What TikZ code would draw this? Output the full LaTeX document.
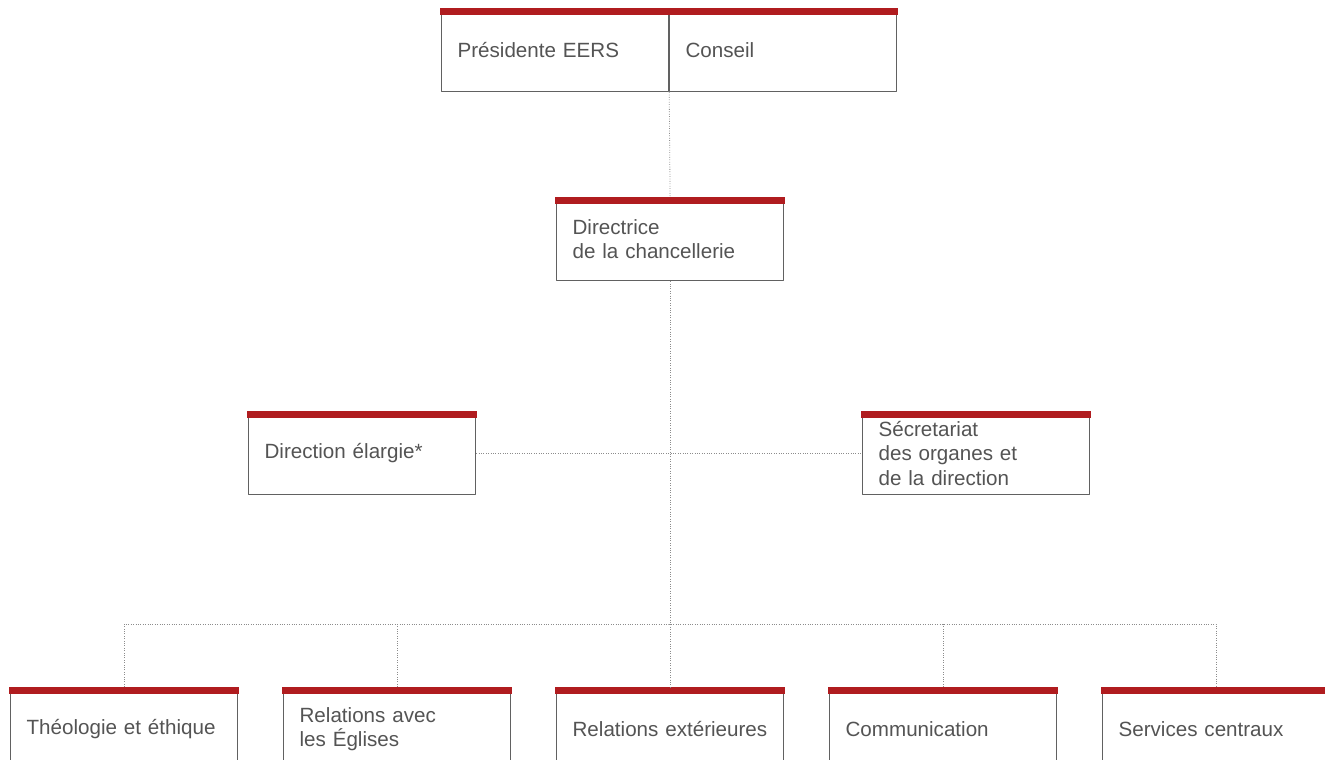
\documentclass[tikz,border=0pt]{standalone}
\usepackage{fontspec}
\setmainfont{Liberation Sans}
\usepackage{tikz}
\usetikzlibrary{positioning,calc}

\definecolor{barred}{rgb}{0.69,0.11,0.12}
\definecolor{boxgray}{rgb}{0.38,0.38,0.38}
\definecolor{txtgray}{rgb}{0.33,0.33,0.33}
\definecolor{linkgray}{rgb}{0.55,0.55,0.55}
\newcommand{\orgfont}{\fontsize{20.6bp}{24.5bp}\selectfont}

\tikzset{
  orgbox/.style={draw=boxgray, line width=1.2bp, fill=white, anchor=north west,
    minimum width=227bp, minimum height=83bp, text width=195bp,
    inner xsep=16bp, inner ysep=0bp, align=left, text=txtgray, font=\orgfont},
  redbar/.style={fill=barred, draw=none},
  link/.style={draw=linkgray, line width=0.8bp, dash pattern=on 0.8bp off 1.6bp},
}

\begin{document}
\begin{tikzpicture}[line join=bevel]
\useasboundingbox (0bp,0bp) rectangle (1325bp,760bp);
\clip (0bp,0bp) rectangle (1325bp,760bp);
\fill[white] (0bp,0bp) rectangle (1325bp,760bp);
 \node[orgbox] (pres) at (441bp,752bp) {Présidente EERS};
 \node[orgbox] (cons) at (669bp,752bp) {Conseil};
 \node[orgbox] (dir) at (556bp,563bp) {Directrice\\de la chancellerie};
 \node[orgbox] (elarg) at (248bp,349bp) {Direction élargie*};
 \node[orgbox] (secr) at (862bp,349bp) {Sécretariat\\des organes et\\de la direction};
 \node[orgbox] (theo) at (10bp,73bp) {Théologie et éthique};
 \node[orgbox] (egl) at (283bp,73bp) {Relations avec\\les Églises};
 \node[orgbox] (ext) at (556bp,73bp) {Relations extérieures};
 \node[orgbox] (comm) at (829bp,73bp) {Communication};
 \node[orgbox] (serv) at (1102bp,73bp) {Services centraux};
\foreach \n in {pres,cons,dir,elarg,secr,theo,egl,ext,comm,serv}
 \fill[redbar] ([xshift=-0.6bp]\n.north west) rectangle ([xshift=0.6bp,yshift=-7bp]\n.north east);
\coordinate (bus) at (669bp,136bp);
 \draw[link] (pres.south east) -- (dir.north);
 \draw[link] (dir.south) -- (ext.north);
 \draw[link] (elarg.east) -- (secr.west);
 \draw[link] (theo.north) |- (bus) -| (serv.north);
\foreach \n in {egl,comm}
 \draw[link] (\n.north) -- (\n.north |- bus);
\end{tikzpicture}
\end{document}
